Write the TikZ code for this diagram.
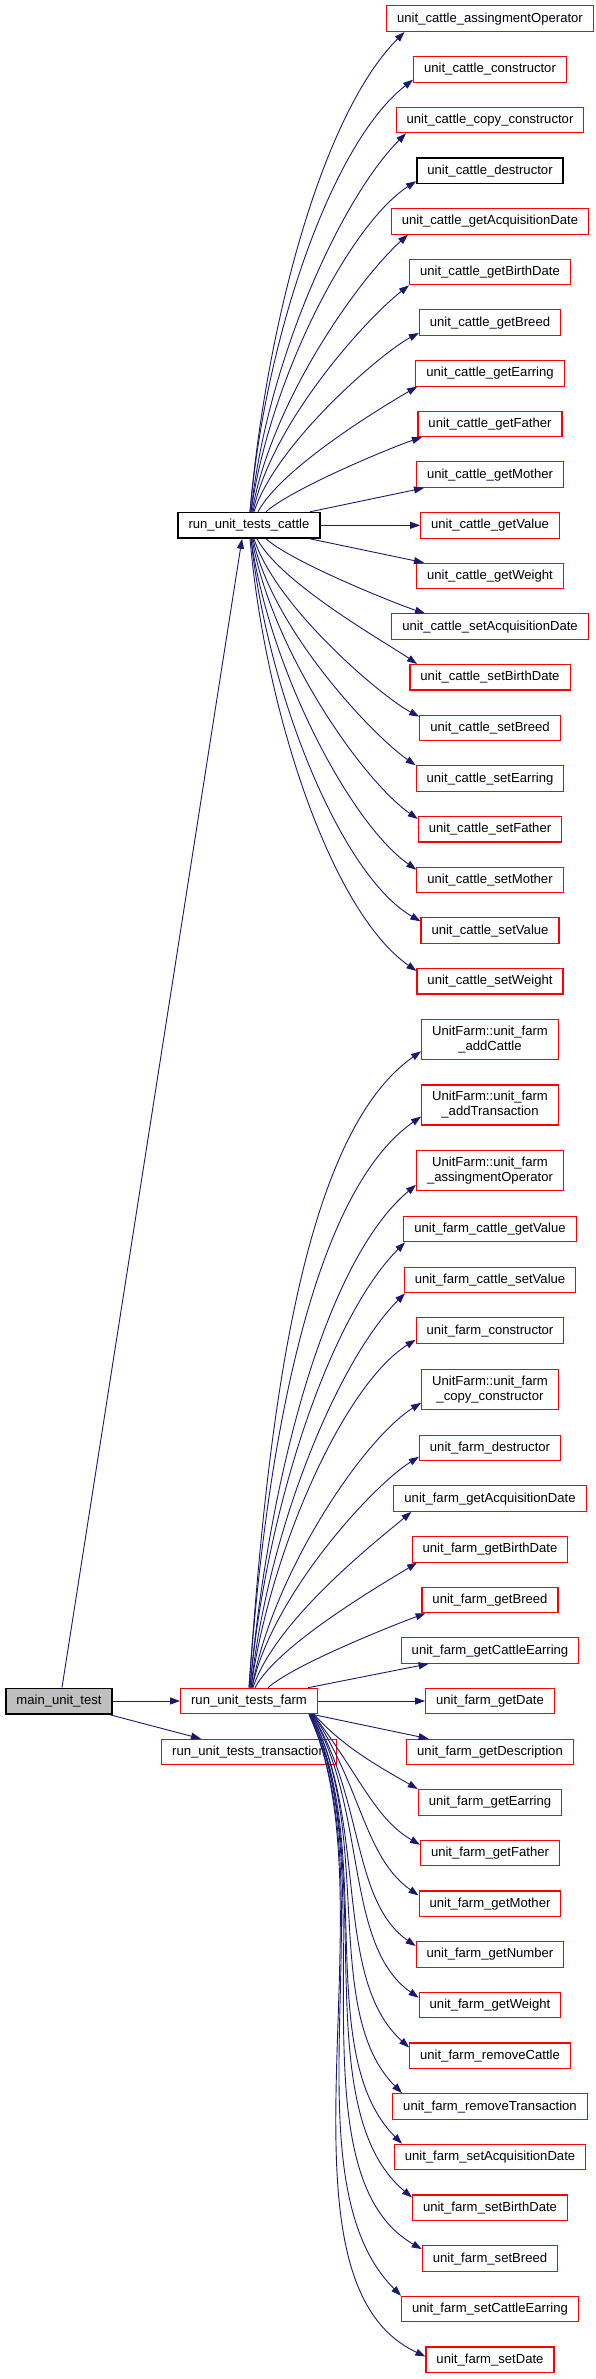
\documentclass[tikz,border=0pt]{standalone}
\usepackage{fontspec}
\setmainfont{Liberation Sans}
\usetikzlibrary{arrows.meta}
\definecolor{edgeblue}{HTML}{191970}
\definecolor{boxred}{HTML}{FF0000}
\definecolor{maingray}{HTML}{BFBFBF}
\tikzset{
  fnbox/.style={draw=boxred, line width=1.1pt, fill=white, font=\fontsize{13.1}{15}\selectfont,
    inner xsep=10.5pt, inner ysep=0pt, minimum height=25.5pt, text height=9.8pt, text depth=2.6pt},
  fntwo/.style={draw=boxred, line width=1.1pt, fill=white, font=\fontsize{13.1}{15}\selectfont,
    inner xsep=10.5pt, inner ysep=0pt, minimum height=40pt, align=center},
  blk/.style={draw=black, line width=1.5pt},
  mainbox/.style={fill=maingray},
  call/.style={draw=edgeblue, line width=0.9pt, -{Triangle[length=10pt,width=7pt]}},
}
\begin{document}
\begin{tikzpicture}[x=1pt,y=1pt]
\useasboundingbox (0,0) rectangle (595,-2379);
% left and middle nodes
\node[fnbox,blk,mainbox] (main) at (59,-1701) {main\_unit\_test};
\node[fnbox,blk] (cattle) at (249,-525.3) {run\_unit\_tests\_cattle};
\node[fnbox] (farm) at (249,-1701) {run\_unit\_tests\_farm};
\node[fnbox] (trans) at (249,-1752) {run\_unit\_tests\_transaction};
% cattle children
\node[fnbox] (ca0) at (490,-18.7) {unit\_cattle\_assingmentOperator};
\node[fnbox] (ca1) at (490,-69.36) {unit\_cattle\_constructor};
\node[fnbox] (ca2) at (490,-120.02) {unit\_cattle\_copy\_constructor};
\node[fnbox,blk] (ca3) at (490,-170.68) {unit\_cattle\_destructor};
\node[fnbox] (ca4) at (490,-221.34) {unit\_cattle\_getAcquisitionDate};
\node[fnbox] (ca5) at (490,-272.0) {unit\_cattle\_getBirthDate};
\node[fnbox] (ca6) at (490,-322.66) {unit\_cattle\_getBreed};
\node[fnbox] (ca7) at (490,-373.32) {unit\_cattle\_getEarring};
\node[fnbox] (ca8) at (490,-423.98) {unit\_cattle\_getFather};
\node[fnbox] (ca9) at (490,-474.64) {unit\_cattle\_getMother};
\node[fnbox] (ca10) at (490,-525.3) {unit\_cattle\_getValue};
\node[fnbox] (ca11) at (490,-575.96) {unit\_cattle\_getWeight};
\node[fnbox] (ca12) at (490,-626.62) {unit\_cattle\_setAcquisitionDate};
\node[fnbox] (ca13) at (490,-677.28) {unit\_cattle\_setBirthDate};
\node[fnbox] (ca14) at (490,-727.94) {unit\_cattle\_setBreed};
\node[fnbox] (ca15) at (490,-778.6) {unit\_cattle\_setEarring};
\node[fnbox] (ca16) at (490,-829.26) {unit\_cattle\_setFather};
\node[fnbox] (ca17) at (490,-879.92) {unit\_cattle\_setMother};
\node[fnbox] (ca18) at (490,-930.58) {unit\_cattle\_setValue};
\node[fnbox] (ca19) at (490,-981.24) {unit\_cattle\_setWeight};
% farm children
\node[fntwo] (fa0) at (490,-1039.8) {UnitFarm::unit\_farm\\\_addCattle};
\node[fntwo] (fa1) at (490,-1105) {UnitFarm::unit\_farm\\\_addTransaction};
\node[fntwo] (fa2) at (490,-1170.3) {UnitFarm::unit\_farm\\\_assingmentOperator};
\node[fnbox] (fa3) at (490,-1229) {unit\_farm\_cattle\_getValue};
\node[fnbox] (fa4) at (490,-1280) {unit\_farm\_cattle\_setValue};
\node[fnbox] (fa5) at (490,-1330.5) {unit\_farm\_constructor};
\node[fntwo] (fa6) at (490,-1389.3) {UnitFarm::unit\_farm\\\_copy\_constructor};
\node[fnbox] (fa7) at (490,-1448) {unit\_farm\_destructor};
\node[fnbox] (fa8) at (490,-1498.5) {unit\_farm\_getAcquisitionDate};
\node[fnbox] (fa9) at (490,-1549.3) {unit\_farm\_getBirthDate};
\node[fnbox] (fa10) at (490,-1600) {unit\_farm\_getBreed};
\node[fnbox] (fa11) at (490,-1650.5) {unit\_farm\_getCattleEarring};
\node[fnbox] (fa12) at (490,-1701) {unit\_farm\_getDate};
\node[fnbox] (fa13) at (490,-1752) {unit\_farm\_getDescription};
\node[fnbox] (fa14) at (490,-1802.3) {unit\_farm\_getEarring};
\node[fnbox] (fa15) at (490,-1853) {unit\_farm\_getFather};
\node[fnbox] (fa16) at (490,-1903.7) {unit\_farm\_getMother};
\node[fnbox] (fa17) at (490,-1954.3) {unit\_farm\_getNumber};
\node[fnbox] (fa18) at (490,-2005) {unit\_farm\_getWeight};
\node[fnbox] (fa19) at (490,-2055.7) {unit\_farm\_removeCattle};
\node[fnbox] (fa20) at (490,-2106.4) {unit\_farm\_removeTransaction};
\node[fnbox] (fa21) at (490,-2157) {unit\_farm\_setAcquisitionDate};
\node[fnbox] (fa22) at (490,-2207.7) {unit\_farm\_setBirthDate};
\node[fnbox] (fa23) at (490,-2258.4) {unit\_farm\_setBreed};
\node[fnbox] (fa24) at (490,-2309) {unit\_farm\_setCattleEarring};
\node[fnbox] (fa25) at (490,-2359.7) {unit\_farm\_setDate};
% main edges
\draw[call] ([xshift=3pt]main.north) -- ([xshift=-7pt]cattle.south);
\draw[call] (main) -- (farm);
\draw[call] ([xshift=-4pt]main.south east) -- ([xshift=-48pt]trans.north);
% cattle upper edges
\draw[call] ([xshift=1pt]cattle.north) .. controls +(85:192) and +(225:115) .. ([xshift=-85.5pt]ca0.south);
\draw[call] ([xshift=1pt]cattle.north) .. controls +(85:174) and +(218:104) .. ([yshift=3pt]ca1.south west);
\draw[call] ([xshift=2pt]cattle.north) .. controls +(84:152) and +(225:91) .. ([xshift=-84pt]ca2.south);
\draw[call] ([xshift=2pt]cattle.north) .. controls +(82:133) and +(213:80) .. ([yshift=3pt]ca3.south west);
\draw[call] ([xshift=3pt]cattle.north) .. controls +(80:112) and +(222:67) .. ([xshift=-82pt]ca4.south);
\draw[call] ([xshift=4pt]cattle.north) .. controls +(78:91) and +(218:55) .. (ca5.south west);
\draw[call] ([xshift=5pt]cattle.north) .. controls +(72:72) and +(208:43) .. ([yshift=3pt]ca6.south west);
\draw[call] ([xshift=9pt]cattle.north) .. controls +(62:51) and +(210:35) .. ([xshift=2pt]ca7.south west);
\draw[call] ([xshift=17pt]cattle.north) .. controls +(42:35) and +(198:30) .. ([xshift=-68pt]ca8.south);
\draw[call] ([xshift=61pt]cattle.north) -- ([xshift=-66pt]ca9.south);
\draw[call] (cattle) -- (ca10);
% cattle lower edges
\draw[call] ([xshift=61pt]cattle.south) -- ([xshift=-66pt]ca11.north);
\draw[call] ([xshift=17pt]cattle.south) .. controls +(-42:35) and +(162:30) .. ([xshift=-65pt]ca12.north);
\draw[call] ([xshift=8pt]cattle.south) .. controls +(-62:51) and +(145:35) .. ([xshift=-73pt]ca13.north);
\draw[call] ([xshift=5pt]cattle.south) .. controls +(-72:72) and +(152:43) .. ([yshift=-2pt]ca14.north west);
\draw[call] ([xshift=4pt]cattle.south) .. controls +(-78:91) and +(145:55) .. (ca15.north west);
\draw[call] ([xshift=3pt]cattle.south) .. controls +(-80:113) and +(145:68) .. ([yshift=-3pt]ca16.north west);
\draw[call] ([xshift=2pt]cattle.south) .. controls +(-82:133) and +(145:80) .. ([yshift=-3pt]ca17.north west);
\draw[call] ([xshift=2pt]cattle.south) .. controls +(-84:154) and +(150:92) .. ([yshift=-4pt]ca18.north west);
\draw[call] ([xshift=1pt]cattle.south) .. controls +(-85:174) and +(145:104) .. ([yshift=-3pt]ca19.north west);
% farm upper edges
\draw[call] (farm.north) .. controls +(86:255) and +(215:150) .. ([yshift=9pt]fa0.south west);
\draw[call] (farm.north) .. controls +(86:229) and +(215:137) .. ([yshift=9pt]fa1.south west);
\draw[call] ([xshift=1pt]farm.north) .. controls +(85:202) and +(220:121) .. ([yshift=6pt]fa2.south west);
\draw[call] ([xshift=1pt]farm.north) .. controls +(85:178) and +(225:107) .. ([xshift=-85pt]fa3.south);
\draw[call] ([xshift=2pt]farm.north) .. controls +(84:158) and +(225:95) .. ([xshift=-85pt]fa4.south);
\draw[call] ([xshift=2pt]farm.north) .. controls +(82:140) and +(212:84) .. ([yshift=4pt]fa5.south west);
\draw[call] ([xshift=3pt]farm.north) .. controls +(80:114) and +(212:69) .. ([yshift=7pt]fa6.south west);
\draw[call] ([xshift=3pt]farm.north) .. controls +(78:93) and +(212:56) .. ([yshift=4.5pt]fa7.south west);
\draw[call] ([xshift=4pt]farm.north) .. controls +(72:71) and +(220:43) .. ([xshift=-78.6pt]fa8.south);
\draw[call] ([xshift=6pt]farm.north) .. controls +(62:50) and +(212:35) .. ([xshift=-73pt]fa9.south);
\draw[call] ([xshift=19pt]farm.north) .. controls +(42:35) and +(200:30) .. ([xshift=-64.4pt]fa10.south);
\draw[call] ([xshift=59pt]farm.north) -- ([xshift=-61.4pt]fa11.south);
\draw[call] (farm) -- (fa12);
% farm lower edges
\draw[call] ([xshift=-6pt]farm.south east) -- ([xshift=-61.4pt]fa13.north);
\draw[call] ([xshift=-4pt]farm.south east) .. controls +(-48:45) and +(150:45) .. (fa14.north west);
\draw[call] ([xshift=-5pt]farm.south east) .. controls +(-52:73) and +(150:53) .. ([yshift=-5pt]fa15.north west);
\draw[call] ([xshift=-5pt]farm.south east) .. controls +(-56:86) and +(145:66) .. ([yshift=-5pt]fa16.north west);
\draw[call] ([xshift=-6pt]farm.south east) .. controls +(-58:98) and +(145:78) .. ([yshift=-5pt]fa17.north west);
\draw[call] ([xshift=-6pt]farm.south east) .. controls +(-60:111) and +(145:91) .. ([yshift=-6pt]fa18.north west);
\draw[call] ([xshift=-7pt]farm.south east) .. controls +(-62:124) and +(138:104) .. ([yshift=-5pt]fa19.north west);
\draw[call] ([xshift=-7pt]farm.south east) .. controls +(-62:135) and +(135:115) .. ([xshift=-88pt]fa20.north);
\draw[call] ([xshift=-8pt]farm.south east) .. controls +(-63:148) and +(135:128) .. ([xshift=-88pt]fa21.north);
\draw[call] ([xshift=-8pt]farm.south east) .. controls +(-64:161) and +(140:141) .. ([yshift=-3pt]fa22.north west);
\draw[call] ([xshift=-8pt]farm.south east) .. controls +(-64:174) and +(150:154) .. ([yshift=-4pt]fa23.north west);
\draw[call] ([xshift=-9pt]farm.south east) .. controls +(-65:186) and +(135:166) .. (fa24.north west);
\draw[call] ([xshift=-9pt]farm.south east) .. controls +(-65:201) and +(155:181) .. ([yshift=-10pt]fa25.north west);
\end{tikzpicture}
\end{document}
